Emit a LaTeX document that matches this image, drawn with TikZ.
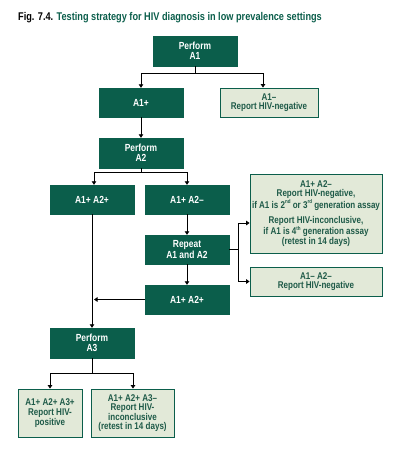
\documentclass[tikz,border=0pt]{standalone}
\usepackage{fontspec}
\setmainfont{Liberation Sans}[FakeStretch=0.82]
\usetikzlibrary{arrows.meta,calc}
\definecolor{dkgreen}{HTML}{0B5E4B}
\definecolor{ltfill}{HTML}{E2E9D8}
\definecolor{txtgreen}{HTML}{1E5A48}
\newcommand{\sups}[1]{\raisebox{0.8ex}{\fontsize{5.5}{6}\selectfont #1}}
\begin{document}
\begin{tikzpicture}[x=1pt,y=-1pt,
  darkbox/.style={draw=dkgreen,fill=dkgreen,text=white,font=\bfseries\fontsize{10.3}{9.6}\selectfont,align=center,inner sep=0pt},
  lightbox/.style={draw=dkgreen,line width=0.8pt,fill=ltfill,text=txtgreen,font=\bfseries\fontsize{9.8}{9.6}\selectfont,align=center,inner sep=0pt},
  conn/.style={line width=0.9pt,black},
  arr/.style={conn,-{Triangle[width=4.5pt,length=3.5pt]}}]
\useasboundingbox (0,0) rectangle (418,461);
\node[anchor=base west,font=\bfseries\fontsize{11.2}{12}\selectfont,inner sep=0pt] (title) at (18,20)
  {Fig. 7.4. \textcolor{dkgreen}{Testing strategy for HIV diagnosis in low prevalence settings}};
\node[darkbox,minimum width=84pt,minimum height=30pt] (A1) at (195,51) {Perform\\A1};
\node[darkbox,minimum width=84pt,minimum height=29pt] (A1p) at (141,102.5) {A1+};
\node[lightbox,minimum width=98pt,minimum height=29pt] (A1m) at (269,102.5) {A1--\\Report HIV-negative};
\node[darkbox,minimum width=84pt,minimum height=30pt] (A2) at (141,153) {Perform\\A2};
\node[darkbox,minimum width=84pt,minimum height=29pt] (A12p) at (92,199.5) {A1+ A2+};
\node[darkbox,minimum width=84pt,minimum height=29pt] (A12m) at (187,199.5) {A1+ A2--};
\node[lightbox,minimum width=132pt,minimum height=79pt] (R1) at (316,213.5)
  {A1+ A2--\\Report HIV-negative,\\if A1 is 2\sups{nd} or 3\sups{rd} generation assay\\[6pt]
   Report HIV-inconclusive,\\if A1 is 4\sups{th} generation assay\\(retest in 14 days)};
\node[darkbox,minimum width=84pt,minimum height=29pt] (Rep) at (187,249.5) {Repeat\\A1 and A2};
\node[lightbox,minimum width=132pt,minimum height=29pt] (R2) at (316,281.5) {A1-- A2--\\Report HIV-negative};
\node[darkbox,minimum width=84pt,minimum height=29pt] (A12p2) at (187,299.5) {A1+ A2+};
\node[darkbox,minimum width=84pt,minimum height=30pt] (A3) at (92,343) {Perform\\A3};
\node[lightbox,minimum width=64pt,minimum height=48pt] (Pos) at (50,413) {A1+ A2+ A3+\\Report HIV-\\positive};
\node[lightbox,minimum width=83pt,minimum height=48pt] (Inc) at (132.5,413) {A1+ A2+ A3--\\Report HIV-\\inconclusive\\(retest in 14 days)};
% connectors
\draw[conn] (A1.south) -- ++(0,7) coordinate (s1);
\draw[arr] (s1) -| (A1p.north);
\draw[arr] (s1) -| ($(A1m.north)+(-6,0)$);
\draw[arr] (A1p.south) -- (A2.north);
\draw[conn] (A2.south) -- ++(0,4) coordinate (s2);
\draw[arr] (s2) -| ($(A12p.north)+(2,0)$);
\draw[arr] (s2) -| (A12m.north);
\draw[arr] (A12p.south) -- (A3.north);
\draw[arr] (A12m.south) -- (Rep.north);
\draw[arr] (Rep.south) -- (A12p2.north);
\draw[arr] (A12p2.west) -- ($(A12p.south |- A12p2.west)+(2,0)$);
\draw[conn] (Rep.east) -- ++(9,0) coordinate (j);
\draw[arr] (j) |- ($(R1.west)+(0,9.5)$);
\draw[arr] (j) |- (R2.west);
\draw[conn] (A3.south) -- ++(0,15) coordinate (s3);
\draw[arr] (s3) -| (Pos.north);
\draw[arr] (s3) -| ($(Inc.north)+(0.5,0)$);
\end{tikzpicture}
\end{document}
